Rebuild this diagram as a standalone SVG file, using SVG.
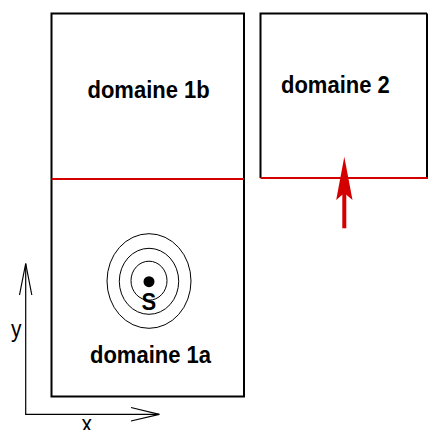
<svg xmlns="http://www.w3.org/2000/svg" width="428" height="430" viewBox="0 0 428 430">
<style>
.box{fill:none;stroke:#000;stroke-width:2}
.red{stroke:#d40000;stroke-width:2;fill:none}
.ring{fill:none;stroke:#000;stroke-width:1}
.lbl{font-family:"Liberation Sans",Arial,sans-serif;font-weight:bold;font-size:22px;fill:#000}
.ax{font-family:"Liberation Sans",Arial,sans-serif;font-size:21px;fill:#000}
.axl{stroke:#000;stroke-width:1.2;fill:none}
</style>
<rect width="428" height="430" fill="#fff"/>
<g id="domaine1b">
<path class="box" d="M51.5,179 V13.5 H244 V179"/>
<text class="lbl" transform="translate(87.5,98) scale(1,1.1)">domaine 1b</text>
</g>
<g id="domaine1a">
<path class="box" d="M51.5,179 V396.5 H244 V179"/>
<text class="lbl" transform="translate(90,362.5) scale(1,1.1)">domaine 1a</text>
</g>
<g id="domaine2">
<path class="box" d="M260.5,178 V13.5 H427"/>
<line class="box" x1="427" y1="13.5" x2="427" y2="178"/>
<text class="lbl" transform="translate(281,92.5) scale(1,1.1)">domaine 2</text>
</g>
<g id="interfaces">
<line class="red" x1="51.5" y1="179" x2="244" y2="179"/>
<line class="red" x1="260.5" y1="178" x2="428" y2="178"/>
</g>
<g id="source">
<ellipse class="ring" cx="149" cy="281" rx="42" ry="47.3"/>
<ellipse class="ring" cx="149" cy="281.3" rx="29.7" ry="33"/>
<ellipse class="ring" cx="149" cy="280.7" rx="18" ry="19.5"/>
<circle cx="149" cy="281.7" r="5.5" fill="#000"/>
<text class="lbl" transform="translate(141.5,310) scale(1,1.1)">S</text>
</g>
<g id="connectors">
<line x1="344.3" y1="228.3" x2="344.3" y2="192" stroke="#d40000" stroke-width="4"/>
<polygon points="344.3,156.7 352.5,200 344.3,193 336.2,200" fill="#d40000"/>
<polyline class="axl" points="25.7,415 25.7,263.5"/>
<polyline class="axl" points="19.5,295 25.7,263.5 31.8,295"/>
<polyline class="axl" points="25.7,414.3 159.3,414.3"/>
<polyline class="axl" points="131,407.5 159.3,414.3 131,421"/>
</g>
<text class="ax" transform="translate(11,337) scale(1,1.1)">y</text>
<text class="ax" transform="translate(81.5,432) scale(1,1.1)">x</text>
</svg>
